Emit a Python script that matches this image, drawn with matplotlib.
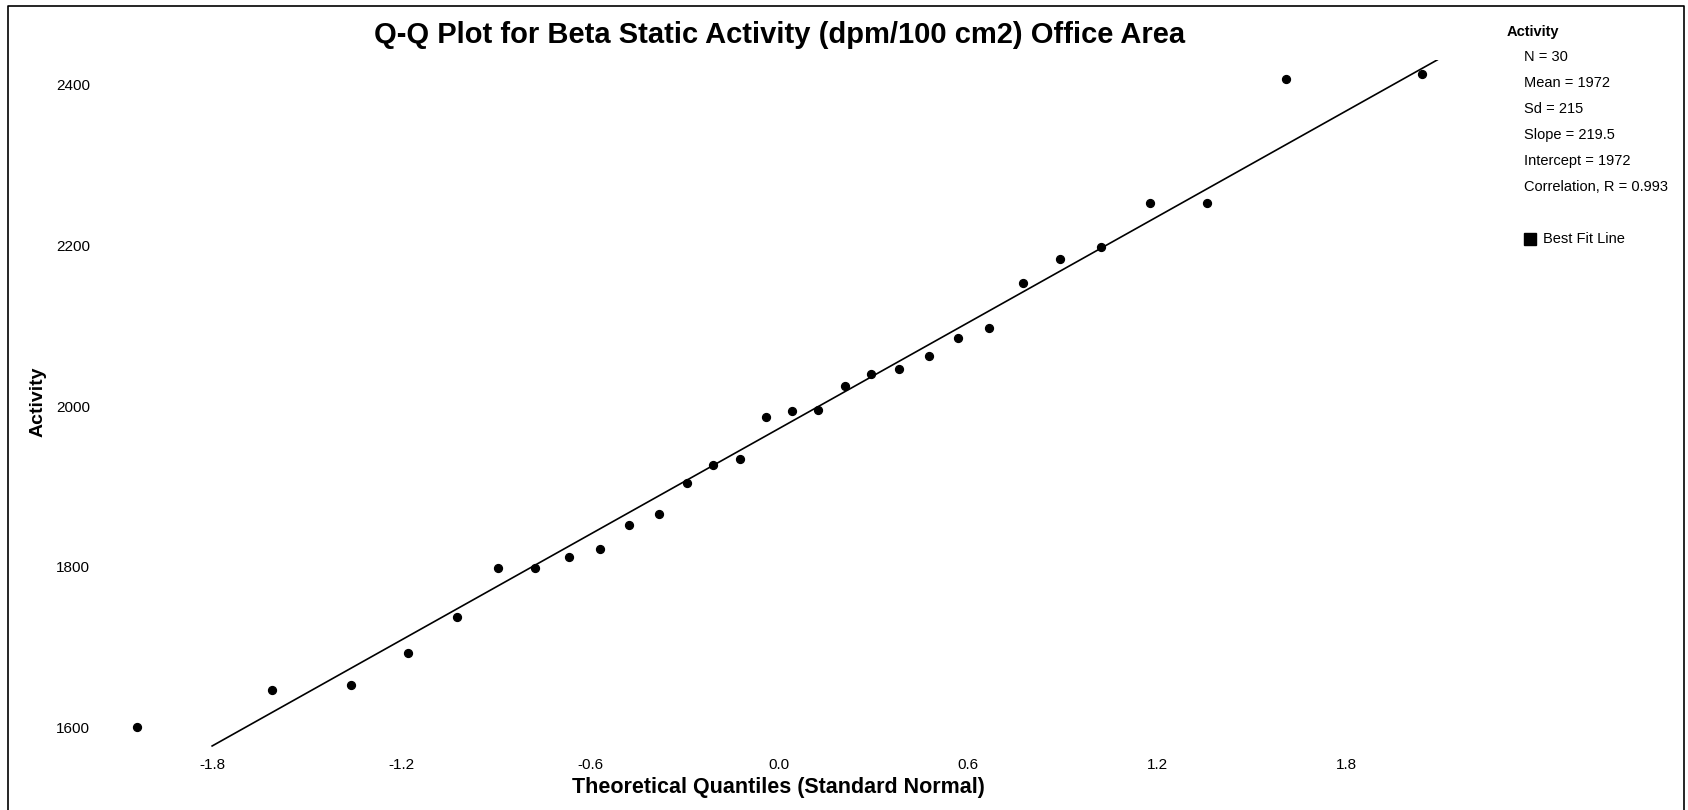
import matplotlib
matplotlib.use("Agg")
import matplotlib.pyplot as plt
from matplotlib.lines import Line2D

plt.rcParams['font.family'] = ['Liberation Sans', 'DejaVu Sans']

# theoretical quantiles (standard normal)
quantiles = [-2.04, -1.61, -1.36, -1.177, -1.022, -0.893, -0.775, -0.668, -0.568, -0.476,
             -0.381, -0.292, -0.209, -0.123, -0.040, 0.040, 0.123, 0.209, 0.292, 0.381,
             0.476, 0.568, 0.668, 0.775, 0.893, 1.022, 1.177, 1.36, 1.61, 2.04]

# measured beta static activity, dpm/100 cm2
activity = [1600, 1646, 1653, 1693, 1738, 1798, 1798, 1812, 1822, 1852,
            1866, 1904, 1926, 1934, 1986, 1994, 1995, 2025, 2040, 2046,
            2062, 2085, 2097, 2153, 2183, 2198, 2253, 2253, 2407, 2413]

# best fit line
slope = 219.5
intercept = 1972
fit_range = [-1.8, 2.09]

x_ticks = [-1.8, -1.2, -0.6, 0.0, 0.6, 1.2, 1.8]
y_ticks = [1600, 1800, 2000, 2200, 2400]

stat_labels = ["N = 30", "Mean = 1972", "Sd = 215", "Slope = 219.5",
               "Intercept = 1972", "Correlation, R = 0.993"]

W, H = 1688, 810
fig = plt.figure(figsize=(W / 100, H / 100), dpi=100)

# plot area in pixels: left 100, right 1460, top 60, bottom 750
ax = fig.add_axes([100 / W, 1 - 750 / H, 1360 / W, 690 / H])
ax.set_xlim(-2.156, 2.162)
ax.set_ylim(1571.9, 2430.6)
for s in ax.spines.values():
    s.set_visible(False)

ax.scatter(quantiles, activity, s=32, color='black', zorder=3)
fit_y = [intercept + slope * x for x in fit_range]
ax.plot(fit_range, fit_y, color='black', lw=1.2)

ax.set_xticks(x_ticks)
ax.set_xticklabels(["%.1f" % t for t in x_ticks])
ax.set_yticks(y_ticks)
ax.set_yticklabels([str(t) for t in y_ticks])
ax.tick_params(axis='both', length=0, labelsize=11)
ax.tick_params(axis='y', pad=7)
ax.tick_params(axis='x', pad=6)

ax.set_xlabel("Theoretical Quantiles (Standard Normal)", fontsize=15.5,
              fontweight='bold', va='center')
ax.xaxis.set_label_coords((778 - 100) / 1360, (750 - 788) / 690)
ax.set_ylabel("Activity", fontsize=14, fontweight='bold', va='center')
ax.yaxis.set_label_coords((38 - 100) / 1360, (750 - 402) / 690)

fig.text(780 / W, 1 - 35 / H,
         "Q-Q Plot for Beta Static Activity (dpm/100 cm2) Office Area",
         ha='center', va='center', fontsize=21, fontweight='bold')

# stats panel on the right
fig.text(1507 / W, 1 - 32 / H, "Activity", ha='left', va='center',
         fontsize=10.5, fontweight='bold')
for i, lab in enumerate(stat_labels):
    fig.text(1524 / W, 1 - (57 + 26 * i) / H, lab, ha='left', va='center',
             fontsize=10.5)
fig.add_artist(Line2D([1530 / W], [1 - 239 / H], marker='s', markersize=9,
                      color='black', transform=fig.transFigure))
fig.text(1543 / W, 1 - 239 / H, "Best Fit Line", ha='left', va='center',
         fontsize=10.5)

# frame border
fx = [8 / W, 8 / W, 1684 / W, 1684 / W]
fy = [0, 1 - 6 / H, 1 - 6 / H, 0]
fig.add_artist(Line2D(fx, fy, color='black', lw=1.2, transform=fig.transFigure))

fig.savefig("out.png", dpi=100)
